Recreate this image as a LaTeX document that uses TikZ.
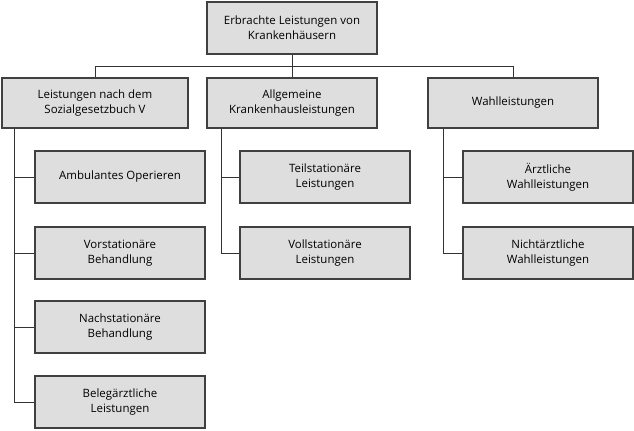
\documentclass[tikz,border=0pt]{standalone}
\usepackage{fontspec}
\setmainfont{Open Sans}
\begin{document}
\begin{tikzpicture}[x=0.75pt,y=-0.75pt,
  bx/.style={draw=black!75,fill=black!13,line width=0.8pt,minimum width=127.5pt,minimum height=39pt,align=center,font=\fontsize{8.6}{11}\selectfont,inner sep=1pt},
  ln/.style={draw=black!80,line width=0.7pt}]
\useasboundingbox (0,0) rectangle (634,430);
\node[bx] (top) at (292,28) {Erbrachte Leistungen von\\Krankenhäusern};
\node[bx,minimum width=139.5pt,minimum height=37.5pt] (l1) at (95,103) {Leistungen nach dem\\Sozialgesetzbuch V};
\node[bx,minimum height=37.5pt] (l2) at (292,103) {Allgemeine\\Krankenhausleistungen};
\node[bx,minimum height=37.5pt] (l3) at (513,103) {Wahlleistungen};
\node[bx] (a1) at (120,177) {Ambulantes Operieren};
\node[bx] (a2) at (120,253) {Vorstationäre\\Behandlung};
\node[bx] (a3) at (120,327) {Nachstationäre\\Behandlung};
\node[bx] (a4) at (120,402) {Belegärztliche\\Leistungen};
\node[bx] (b1) at (325,177) {Teilstationäre\\Leistungen};
\node[bx] (b2) at (325,253) {Vollstationäre\\Leistungen};
\node[bx] (c1) at (548,177) {Ärztliche\\Wahlleistungen};
\node[bx] (c2) at (548,253) {Nichtärztliche\\Wahlleistungen};
\coordinate (j) at (292,66);
\draw[ln] (top.south) -- (j);
\draw[ln] (l1.north) -- (l1.north |- j) -- (l3.north |- j) -- (l3.north);
\draw[ln] (l2.north) -- (j);
\foreach \p/\x/\c in {l1/14/a1,l1/14/a2,l1/14/a3,l1/14/a4,l2/221/b1,l2/221/b2,l3/443/c1,l3/443/c2}
  \draw[ln] (\x,0 |- \p.south) -- (\x,0 |- \c.west) -- (\c.west);
\end{tikzpicture}
\end{document}
